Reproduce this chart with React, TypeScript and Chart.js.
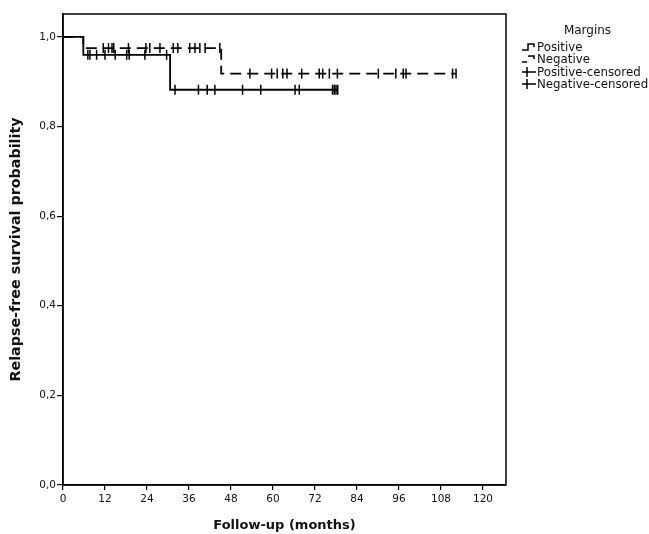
import React, { useEffect, useRef } from "react";
import { Chart, registerables } from "chart.js";

Chart.register(...registerables);

// Kaplan-Meier step curves (time in months, survival probability)
const positiveTimes = [0, 5.8, 30.6, 78.5];
const positiveSurvival = [1, 0.96, 0.882, 0.882];
const negativeTimes = [0, 5.8, 45.2, 112.3];
const negativeSurvival = [1, 0.975, 0.918, 0.918];

// censoring times
const positiveCensored = [7.1, 7.7, 9.6, 12, 14.9, 18.2, 18.9, 23.4, 29.6, 32, 38.7, 41.2, 43.4, 51.3, 56.5, 66.3, 67.5, 77, 77.5, 78, 78.5];
const negativeCensored = [11.5, 13, 14, 14.5, 18.7, 23.7, 24.8, 27.7, 31.5, 32.8, 36.2, 37.7, 39.1, 40.6, 44.8, 53.4, 59.6, 61.2, 62.8, 64, 68.2, 73.2, 74.2, 76.1, 78.4, 90.1, 95.1, 97.2, 98, 111.3, 112.3];

const xTickValues = [0, 12, 24, 36, 48, 60, 72, 84, 96, 108, 120];
const yTickValues = [0, 0.2, 0.4, 0.6, 0.8, 1.0];

const legendTitle = "Margins";
const legendLabels = ["Positive", "Negative", "Positive-censored", "Negative-censored"];

function survAt(times: number[], surv: number[], t: number) {
  let s = surv[0];
  for (let i = 0; i < times.length; i++) if (times[i] <= t) s = surv[i];
  return s;
}

const FONT = "'DejaVu Sans', Verdana, sans-serif";

const boxPlugin = {
  id: "box",
  afterDraw(chart: any) {
    const { ctx, chartArea } = chart;
    ctx.save();
    ctx.strokeStyle = "#000";
    ctx.lineWidth = 1.5;
    ctx.strokeRect(chartArea.left, chartArea.top, chartArea.right - chartArea.left, chartArea.bottom - chartArea.top);
    ctx.restore();
  },
};

export default function App() {
  const ref = useRef<HTMLCanvasElement>(null);
  useEffect(() => {
    if (!ref.current) return;
    const pos = positiveTimes.map((t, i) => ({ x: t, y: positiveSurvival[i] }));
    const neg = negativeTimes.map((t, i) => ({ x: t, y: negativeSurvival[i] }));
    const posC = positiveCensored.map((t) => ({ x: t, y: survAt(positiveTimes, positiveSurvival, t) }));
    const negC = negativeCensored.map((t) => ({ x: t, y: survAt(negativeTimes, negativeSurvival, t) }));
    const censorStyle = {
      showLine: false,
      pointStyle: "line",
      rotation: 90,
      pointRadius: 5,
      pointBorderWidth: 1.5,
      pointBorderColor: "#000",
      pointBackgroundColor: "#000",
      borderColor: "#000",
    };
    const chart = new Chart(ref.current, {
      type: "line",
      data: {
        datasets: [
          { label: legendLabels[0], data: pos, stepped: true, borderColor: "#000", borderWidth: 1.8, pointRadius: 0 },
          { label: legendLabels[1], data: neg, stepped: true, borderColor: "#000", borderWidth: 1.8, borderDash: [11, 6], pointRadius: 0 },
          { label: legendLabels[2], data: posC, ...censorStyle } as any,
          { label: legendLabels[3], data: negC, ...censorStyle } as any,
        ],
      },
      options: {
        animation: false,
        responsive: false,
        devicePixelRatio: 1,
        layout: { padding: { left: 0, right: 143, top: 14, bottom: 0 } },
        plugins: { legend: { display: false }, tooltip: { enabled: false } },
        scales: {
          x: {
            type: "linear",
            min: 0,
            max: 126.57,
            afterBuildTicks: (s: any) => { s.ticks = xTickValues.map((v) => ({ value: v })); },
            afterFit: (s: any) => { s.height = 49; },
            ticks: { font: { family: FONT, size: 10.5 }, color: "#111", padding: 3, maxRotation: 0, autoSkip: false },
            grid: { drawOnChartArea: false, drawTicks: true, tickLength: 5, color: "#000", lineWidth: 1.2 },
            border: { display: true, color: "#000", width: 1.5 },
            title: { display: true, text: "Follow-up (months)", font: { family: FONT, size: 13, weight: "bold" }, color: "#111", padding: { top: 0, bottom: 1 } },
          },
          y: {
            type: "linear",
            min: 0,
            max: 1.051,
            afterBuildTicks: (s: any) => { s.ticks = yTickValues.map((v) => ({ value: v })); },
            afterFit: (s: any) => { s.width = 63; },
            ticks: {
              font: { family: FONT, size: 10.5 },
              color: "#111",
              padding: 1,
              callback: (v: any) => Number(v).toFixed(1).replace(".", ","),
            },
            grid: { drawOnChartArea: false, drawTicks: true, tickLength: 6, color: "#000", lineWidth: 1.2 },
            border: { display: true, color: "#000", width: 1.5 },
            title: { display: true, text: "Relapse-free survival probability", font: { family: FONT, size: 14.3, weight: "bold" }, color: "#111", padding: { top: 8, bottom: 0 } },
          },
        },
      } as any,
      plugins: [boxPlugin],
    });
    return () => chart.destroy();
  }, []);

  const itemStyle: React.CSSProperties = { position: "absolute", left: 522, display: "flex", alignItems: "center", height: 12, fontFamily: FONT, fontSize: 11.8, color: "#111", whiteSpace: "nowrap" };
  const icons = [
    <path d="M0,9 H6 V3 H12 V6" />,
    <path d="M0,9 H5 M7,4 V3 H12 V6" />,
    <path d="M0,6 H14 M5,1 V11" />,
    <path d="M0,6 H14 M5,1 V11" />,
  ];
  const tops = [41, 53, 66, 78];
  return (
    <div style={{ position: "fixed", left: 0, top: 0, width: 649, height: 534, background: "#fff", overflow: "hidden" }}>
      <canvas ref={ref} width={649} height={534} style={{ display: "block", width: 649, height: 534 }} />
      <div style={{ position: "absolute", left: 540, width: 95, top: 23, textAlign: "center", fontFamily: FONT, fontSize: 12, color: "#111" }}>{legendTitle}</div>
      {legendLabels.map((lab, i) => (
        <div key={lab} style={{ ...itemStyle, top: tops[i] }}>
          <svg width={15} height={12} style={{ marginRight: 0 }}>
            <g stroke="#000" strokeWidth={1.5} fill="none">{icons[i]}</g>
          </svg>
          <span>{lab}</span>
        </div>
      ))}
    </div>
  );
}
